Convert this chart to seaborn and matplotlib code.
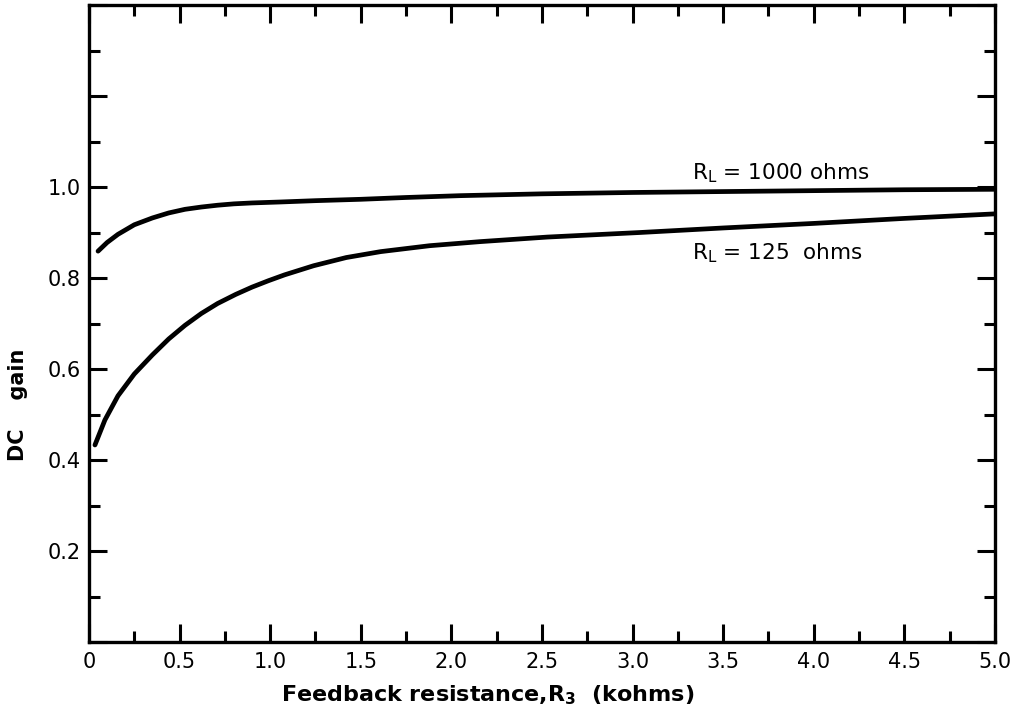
import numpy as np
import pandas as pd
import matplotlib
matplotlib.use("Agg")
import matplotlib.pyplot as plt
import seaborn as sns

# Data
r3_1000 = [0.05, 0.10, 0.16, 0.25, 0.35, 0.44, 0.53, 0.62, 0.71, 0.80, 0.90, 1.05,
           1.25, 1.5, 1.75, 2.05, 2.5, 3.0, 3.5, 4.0, 4.5, 5.0]
gain_1000 = [0.859, 0.878, 0.896, 0.917, 0.932, 0.943, 0.951, 0.956, 0.960, 0.963, 0.965, 0.967,
             0.970, 0.973, 0.977, 0.981, 0.985, 0.988, 0.990, 0.992, 0.994, 0.995]

r3_125 = [0.033, 0.088, 0.16, 0.25, 0.35, 0.44, 0.53, 0.62, 0.71, 0.81, 0.90, 0.99,
          1.08, 1.24, 1.42, 1.61, 1.88, 2.16, 2.53, 3.04, 3.5, 4.0, 4.5, 5.0]
gain_125 = [0.433, 0.488, 0.541, 0.589, 0.631, 0.666, 0.696, 0.722, 0.744, 0.764, 0.780, 0.794,
            0.807, 0.827, 0.845, 0.858, 0.871, 0.880, 0.890, 0.900, 0.910, 0.920, 0.931, 0.941]

series_labels = ["R$_\\mathregular{L}$ = 1000 ohms", "R$_\\mathregular{L}$ = 125  ohms"]
x_ticklabels = ["0", "0.5", "1.0", "1.5", "2.0", "2.5", "3.0", "3.5", "4.0", "4.5", "5.0"]
y_ticklabels = ["", "0.2", "0.4", "0.6", "0.8", "1.0", "", ""]

df = pd.concat([
    pd.DataFrame({"R3": r3_1000, "gain": gain_1000, "series": "1000"}),
    pd.DataFrame({"R3": r3_125, "gain": gain_125, "series": "125"}),
])

sns.set_style("ticks")
plt.rcParams['font.family'] = ['DejaVu Sans']
plt.rcParams['text.color'] = 'black'
plt.rcParams['axes.labelcolor'] = 'black'
plt.rcParams['xtick.color'] = 'black'
plt.rcParams['ytick.color'] = 'black'

fig = plt.figure(figsize=(10.25, 7.17), dpi=100)
ax = fig.add_axes([0.0868, 0.1046, 0.8839, 0.8884])

sns.lineplot(data=df, x="R3", y="gain", units="series", estimator=None,
             color="black", linewidth=3.4, ax=ax, legend=False, sort=True)
for ln in ax.get_lines():
    ln.set_solid_joinstyle("round")
    ln.set_solid_capstyle("round")

ax.set_xlim(0, 5.0)
ax.set_ylim(0, 1.4)

ax.set_xticks(np.arange(0, 5.01, 0.5))
ax.set_xticklabels(x_ticklabels)
ax.set_xticks(np.arange(0.25, 5.0, 0.5), minor=True)
ax.set_yticks(np.arange(0, 1.41, 0.2))
ax.set_yticklabels(y_ticklabels)
ax.set_yticks(np.arange(0.1, 1.4, 0.2), minor=True)

ax.tick_params(which="both", direction="in", top=True, right=True, width=2.2,
               labelsize=15, color="black", labelcolor="black")
ax.tick_params(which="major", length=13)
ax.tick_params(which="minor", length=8)
ax.tick_params(axis="x", pad=7)
ax.tick_params(axis="y", pad=6)
for s in ax.spines.values():
    s.set_linewidth(2.4)
    s.set_color("black")

ax.text(3.33, 1.03, series_labels[0], fontsize=15.5, va="center", ha="left")
ax.text(3.33, 0.855, series_labels[1], fontsize=15.5, va="center", ha="left")

ax.set_xlabel("Feedback resistance,R$_\\mathregular{3}$  (kohms)", fontsize=16,
              fontweight="bold")
ax.xaxis.set_label_coords(0.44, -0.065)
ax.set_ylabel("DC    gain", fontsize=15, fontweight="bold")
ax.yaxis.set_label_coords(-0.067, 0.372)

fig.savefig("out.png", dpi=100)
